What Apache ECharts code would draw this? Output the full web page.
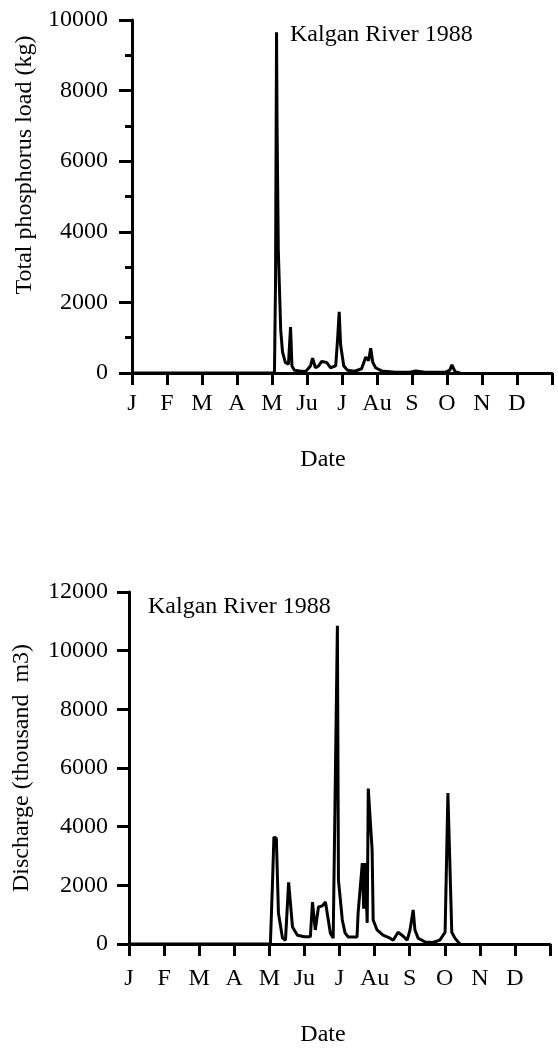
<!DOCTYPE html>
<html>
<head>
<meta charset="utf-8">
<script src="https://cdn.jsdelivr.net/npm/echarts@6/dist/echarts.min.js"></script>
<style>
html,body{margin:0;padding:0;background:#fff;}
#chart{width:558px;height:1049px;}
</style>
</head>
<body>
<div id="chart"></div>
<script>
// Month tick labels (axis in months from 1 Jan)
const monthLabels = ['J','F','M','A','M','Ju','J','Au','S','O','N','D'];

// Total phosphorus load (kg), x in months
const phosMonth = [0, 4.07, 4.10, 4.13, 4.145, 4.155, 4.17, 4.18, 4.21, 4.25, 4.30, 4.38, 4.47, 4.53, 4.57, 4.64, 4.79, 4.96, 5.10, 5.16, 5.24, 5.33, 5.42, 5.56, 5.67, 5.82, 5.87, 5.92, 5.96, 6.05, 6.16, 6.36, 6.56, 6.68, 6.76, 6.82, 6.88, 6.96, 7.13, 7.51, 7.94, 8.11, 8.37, 8.94, 9.08, 9.14, 9.23, 9.37];
const phosLoad  = [0, 0, 2500, 9650, 7000, 6000, 4500, 3500, 2500, 1200, 600, 300, 250, 1300, 200, 80, 60, 40, 200, 420, 150, 200, 330, 300, 150, 200, 900, 1730, 800, 200, 80, 50, 120, 450, 350, 700, 300, 150, 60, 20, 20, 60, 20, 20, 80, 230, 40, 0];

// Discharge (thousand m3), x in months
const dischMonth = [0, 4.03, 4.09, 4.13, 4.20, 4.26, 4.375, 4.46, 4.55, 4.66, 4.80, 5.00, 5.17, 5.23, 5.31, 5.40, 5.51, 5.60, 5.74, 5.82, 5.94, 5.97, 6.08, 6.16, 6.25, 6.50, 6.53, 6.65, 6.69, 6.73, 6.79, 6.82, 6.93, 6.96, 7.07, 7.24, 7.44, 7.53, 7.67, 7.78, 7.93, 8.01, 8.10, 8.15, 8.24, 8.44, 8.66, 8.86, 9.01, 9.09, 9.20, 9.29, 9.43];
const dischVal   = [0, 0, 2080, 3650, 3600, 1050, 200, 130, 2100, 580, 300, 250, 250, 1430, 480, 1260, 1300, 1430, 370, 200, 10850, 2180, 820, 370, 240, 240, 1050, 2760, 1200, 2760, 720, 5300, 3200, 820, 480, 300, 200, 130, 400, 300, 130, 480, 1160, 480, 200, 70, 50, 130, 400, 5150, 400, 200, 0];

const FONT = 'Liberation Serif';
const FS = 24;
const chart = echarts.init(document.getElementById('chart'), null, {renderer: 'canvas'});

function xAxisCfg(gridIndex, margin) {
  return {
    type: 'value', gridIndex: gridIndex, min: 0, max: 12, interval: 1,
    axisLine: {show: true, onZero: false, lineStyle: {color: '#000', width: 3}},
    axisTick: {show: true, length: 12, lineStyle: {color: '#000', width: 3}},
    axisLabel: {
      show: true, margin: margin, color: '#000', fontFamily: FONT, fontSize: FS,
      formatter: function (v) { return v < 12 ? monthLabels[Math.round(v)] : ''; }
    },
    splitLine: {show: false}
  };
}
const plain = function (v) { return String(v); };

const option = {
  animation: false,
  backgroundColor: '#fff',
  grid: [
    {left: 132, width: 420, top: 20, height: 353},
    {left: 129, width: 421, top: 592, height: 352}
  ],
  xAxis: [xAxisCfg(0, 19), xAxisCfg(1, 23)],
  yAxis: [
    {
      type: 'value', gridIndex: 0, min: 0, max: 10000, interval: 2000,
      axisLine: {show: true, lineStyle: {color: '#000', width: 3}},
      axisTick: {show: true, length: 13, lineStyle: {color: '#000', width: 3}},
      minorTick: {show: true, splitNumber: 2, length: 7, lineStyle: {color: '#000', width: 3}},
      axisLabel: {margin: 24, color: '#000', fontFamily: FONT, fontSize: FS, formatter: plain},
      splitLine: {show: false}
    },
    {
      type: 'value', gridIndex: 1, min: 0, max: 12000, interval: 2000,
      axisLine: {show: true, lineStyle: {color: '#000', width: 3}},
      axisTick: {show: true, length: 12, lineStyle: {color: '#000', width: 3}},
      axisLabel: {margin: 21, color: '#000', fontFamily: FONT, fontSize: FS, formatter: plain},
      splitLine: {show: false}
    }
  ],
  series: [
    {
      type: 'line', xAxisIndex: 0, yAxisIndex: 0, showSymbol: false, symbol: 'none',
      lineStyle: {color: '#000', width: 3}, z: 3,
      data: phosMonth.map((m, i) => [m, phosLoad[i]])
    },
    {
      type: 'line', xAxisIndex: 1, yAxisIndex: 1, showSymbol: false, symbol: 'none',
      lineStyle: {color: '#000', width: 3}, z: 3,
      data: dischMonth.map((m, i) => [m, dischVal[i]])
    }
  ],
  graphic: [
    {type: 'text', x: 290, y: 35, style: {text: 'Kalgan River 1988', font: FS + 'px "Liberation Serif"', fill: '#000', verticalAlign: 'middle', align: 'left'}},
    {type: 'text', x: 148, y: 607, style: {text: 'Kalgan River 1988', font: FS + 'px "Liberation Serif"', fill: '#000', verticalAlign: 'middle', align: 'left'}},
    {type: 'text', x: 25, y: 165, rotation: Math.PI / 2, style: {text: 'Total phosphorus load (kg)', font: FS + 'px "Liberation Serif"', fill: '#000', verticalAlign: 'middle', align: 'center'}},
    {type: 'text', x: 22, y: 768, rotation: Math.PI / 2, style: {text: 'Discharge (thousand  m3)', font: FS + 'px "Liberation Serif"', fill: '#000', verticalAlign: 'middle', align: 'center'}},
    {type: 'text', x: 323, y: 460, style: {text: 'Date', font: FS + 'px "Liberation Serif"', fill: '#000', verticalAlign: 'middle', align: 'center'}},
    {type: 'text', x: 323, y: 1035, style: {text: 'Date', font: FS + 'px "Liberation Serif"', fill: '#000', verticalAlign: 'middle', align: 'center'}}
  ]
};
chart.setOption(option);
</script>
</body>
</html>
